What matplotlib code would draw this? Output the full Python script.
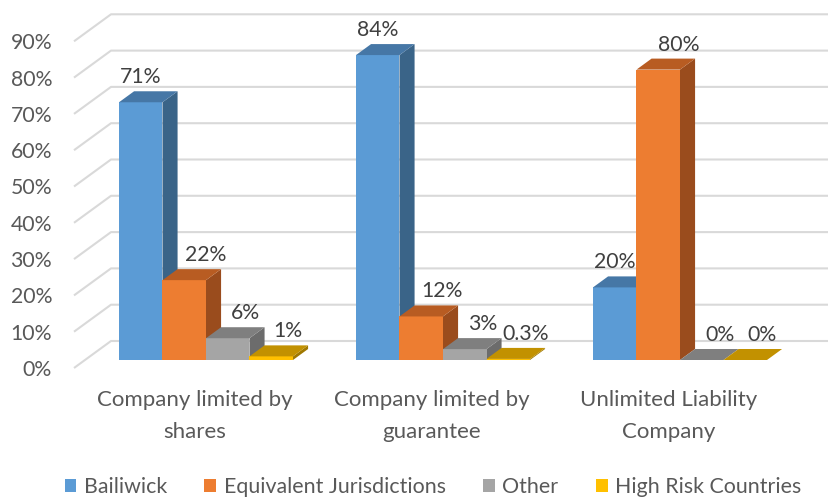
import matplotlib
matplotlib.use("Agg")
import matplotlib.pyplot as plt
from matplotlib.patches import Polygon, Patch

# ---------------- data ----------------
categories = ["Company limited by\nshares", "Company limited by\nguarantee", "Unlimited Liability\nCompany"]
series_names = ["Bailiwick", "Equivalent Jurisdictions", "Other", "High Risk Countries"]
bailiwick = [71, 84, 20]
equivalent = [22, 12, 80]
other = [6, 3, 0]
high_risk = [1, 0.3, 0]
y_ticks = [0, 10, 20, 30, 40, 50, 60, 70, 80, 90]

series_values = [bailiwick, equivalent, other, high_risk]

# ---------------- style ----------------
front_cols = ["#5B9BD5", "#ED7D31", "#A5A5A5", "#FFC000"]
top_cols = ["#4677A6", "#B85C22", "#7F7F7F", "#C29100"]
side_cols = ["#3A6488", "#9A4C1D", "#6C6C6C", "#A07800"]
label_dx_px = [0, 21, 18, 17]

FONT = ["Lato", "DejaVu Sans"]
plt.rcParams["font.family"] = FONT
NUM_FS = 15.3
TXT_FS = 16
LEG_FS = 15.4

W, H = 829, 499
PX_PER_PCT = 3.63
BASE_PX = 360
PITCH_PX = 237
G0_PX = 206
BAR_W_PX = 43.5
DEPTH_RATIO = 37 / 27
BAR_DEPTH_PX = 11
FLOOR_FRONT_PX = -8
WALL_BACK_PX = 19
WALL_LEFT_PX = 74


def px_x(p):
    return p / PITCH_PX


def px_y(p):
    return p / PX_PER_PCT


def depth(zpx):
    return zpx * DEPTH_RATIO / PITCH_PX, zpx / PX_PER_PCT


fig = plt.figure(figsize=(W / 100, H / 100), dpi=100)
ax = fig.add_axes([0, 0, 1, 1])
xmin, xmax = px_x(0 - G0_PX), px_x(W - G0_PX)
ax.set_xlim(xmin, xmax)
ax.set_ylim(px_y(BASE_PX - H), px_y(BASE_PX))
ax.axis("off")

# walls / gridlines
fx, fy = depth(FLOOR_FRONT_PX)
bx, by = depth(WALL_BACK_PX)
xw = px_x(WALL_LEFT_PX - G0_PX)
for t in y_ticks:
    ax.plot([xw, xw + (bx - fx), xmax], [t + fy, t + by, t + by],
            color="#D9D9D9", lw=1.5, solid_capstyle="butt", zorder=1)
    ax.text(xw - px_x(22), t + fy - px_y(2), f"{t}%", ha="right", va="center",
            fontsize=NUM_FS, color="#595959")

# bars
w = px_x(BAR_W_PX)
ddx, ddy = depth(BAR_DEPTH_PX)
for g in range(len(categories)):
    for s, vals in enumerate(series_values):
        v = vals[g]
        x0 = g + (s - 2) * w
        x1 = x0 + w
        z = 3 + g * 10 + s
        front = [(x0, 0), (x1, 0), (x1, v), (x0, v)]
        top = [(x0, v), (x1, v), (x1 + ddx, v + ddy), (x0 + ddx, v + ddy)]
        side = [(x1, 0), (x1 + ddx, ddy), (x1 + ddx, v + ddy), (x1, v)]
        ax.add_patch(Polygon(side, closed=True, fc=side_cols[s], ec="none", zorder=z))
        ax.add_patch(Polygon(front, closed=True, fc=front_cols[s], ec="none", zorder=z))
        ax.add_patch(Polygon(top, closed=True, fc=top_cols[s], ec="none", zorder=z))
        ax.text(x0 + w / 2 + px_x(label_dx_px[s]), v + px_y(25), f"{v:g}%",
                ha="center", va="center", fontsize=NUM_FS, color="#404040", zorder=100)

# category labels
for g, c in enumerate(categories):
    ax.text(g + fx, -px_y(416 - BASE_PX), c, ha="center", va="center",
            fontsize=TXT_FS, color="#595959", linespacing=1.7)

handles = [Patch(fc=c, ec="none") for c in front_cols]
fig.legend(handles, series_names, loc="center", bbox_to_anchor=(433 / W, 1 - 487 / H),
           ncol=4, frameon=False, fontsize=LEG_FS, labelcolor="#595959",
           handlelength=0.55, handleheight=0.55, handletextpad=0.35, columnspacing=1.75)

fig.savefig("out.png", dpi=100)
